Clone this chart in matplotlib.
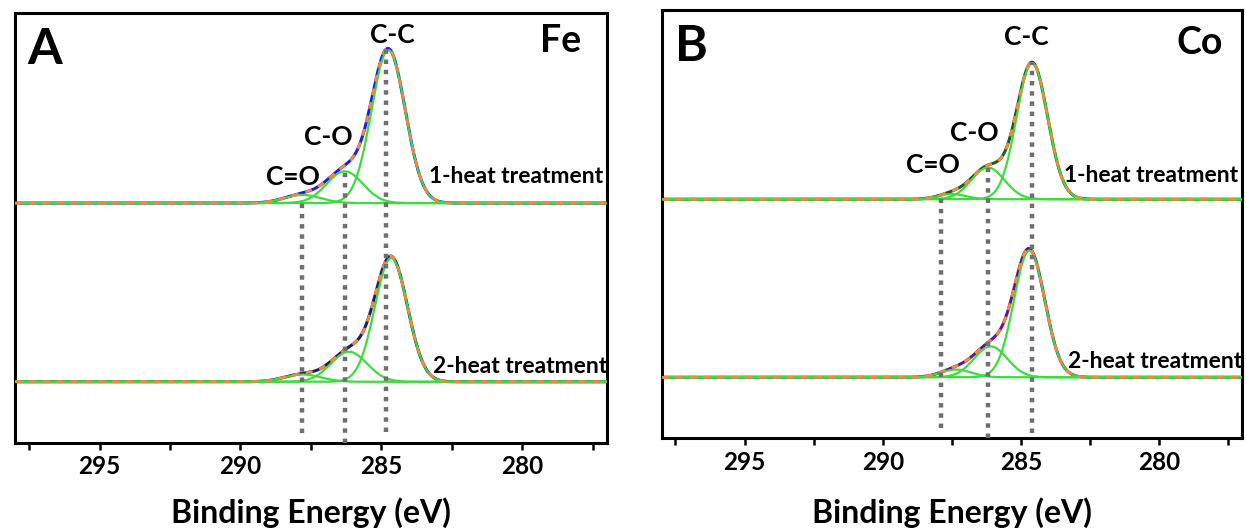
import numpy as np
import matplotlib
matplotlib.use("Agg")
import matplotlib.pyplot as plt

plt.rcParams['font.family'] = ['Lato', 'DejaVu Sans']
plt.rcParams['font.weight'] = 'bold'

# BINDING ENERGY GRID (eV)
energy = np.linspace(298, 277, 841)

# FIT COMPONENTS PER SPECTRUM: (label, centre eV, height, sigma eV)
fe_1heat = [("C=O", 287.8, 0.019, 0.65),
            ("C-O", 286.3, 0.074, 0.64),
            ("C-C", 284.75, 0.356, 0.60)]
fe_2heat = [("C=O", 287.8, 0.017, 0.65),
            ("C-O", 286.15, 0.070, 0.64),
            ("C-C", 284.65, 0.288, 0.58)]
co_1heat = [("C=O", 287.5, 0.012, 0.50),
            ("C-O", 286.2, 0.074, 0.60),
            ("C-C", 284.6, 0.318, 0.56)]
co_2heat = [("C=O", 287.35, 0.018, 0.55),
            ("C-O", 286.1, 0.072, 0.60),
            ("C-C", 284.7, 0.296, 0.56)]

# BASELINE OFFSETS (stacked spectra)
offsets = [0.558, 0.142]

# REFERENCE LINES: (centre eV, top, bottom)
fe_refs = [(287.8, 0.558, 0.023), (286.3, 0.630, 0.000), (284.85, 0.921, 0.026)]
co_refs = [(287.9, 0.572, 0.023), (286.2, 0.631, 0.000), (284.6, 0.879, 0.012)]

raw_colors_fe = ["#1c1cf0", "#1d1d6a"]
raw_colors_co = ["#1f5a1f", "#6a1490"]

ticks = [295, 290, 285, 280]
minor_ticks = [297.5, 292.5, 287.5, 282.5, 277.5]

GREEN = "#3ddc3d"
ORANGE = "#f28a3a"


def gauss(x, c, h, s):
    return h * np.exp(-(x - c) ** 2 / (2 * s ** 2))


def draw_spectrum(ax, comps, base, raw_color):
    parts = [gauss(energy, c, h, s) for _, c, h, s in comps]
    envelope = base + np.sum(parts, axis=0)
    ax.plot(energy, envelope, color=raw_color, lw=2.2, zorder=2)
    for p in parts:
        ax.plot(energy, base + p, color=GREEN, lw=1.6, zorder=3)
    ax.plot(energy, envelope, color=ORANGE, lw=2.0,
            dashes=(2.5, 2.5), zorder=4)


def setup(ax):
    ax.set_xlim(298, 277)
    ax.set_ylim(0, 1)
    ax.set_yticks([])
    ax.set_xticks(ticks)
    ax.set_xticks(minor_ticks, minor=True)
    ax.tick_params(axis='x', which='both', direction='out', length=5,
                   width=1.8, labelsize=17.5, pad=4)
    for sp in ax.spines.values():
        sp.set_linewidth(2.2)


fig = plt.figure(figsize=(12.46, 5.29), dpi=100)
axA = fig.add_axes([0.012, 0.163, 0.475, 0.812])
axB = fig.add_axes([0.531, 0.172, 0.466, 0.809])

panels = [
    (axA, [fe_1heat, fe_2heat], raw_colors_fe, fe_refs, "A", "Fe",
     (0.050, 0.916), (0.922, 0.935)),
    (axB, [co_1heat, co_2heat], raw_colors_co, co_refs, "B", "Co",
     (0.052, 0.914), (0.927, 0.923)),
]

for ax, spectra, colors, refs, letter, metal, lpos, mpos in panels:
    setup(ax)
    for comps, base, col in zip(spectra, offsets, colors):
        draw_spectrum(ax, comps, base, col)
    for x, top, bot in refs:
        ax.plot([x, x], [bot, top], color="#6f6f6f", lw=3.2,
                dashes=(1, 1.3), zorder=5)
    ax.text(*lpos, letter, transform=ax.transAxes, fontsize=36,
            fontweight='bold', va='center', ha='center')
    ax.text(*mpos, metal, transform=ax.transAxes, fontsize=27,
            fontweight='bold', va='center', ha='center')
    # x label placed by baseline
    bb = ax.get_position()
    fig.text((bb.x0 + bb.x1) / 2, 0.0125, "Binding Energy (eV)",
             fontsize=23, fontweight='bold', ha='center', va='baseline')

# PEAK LABELS
label_kw = dict(fontsize=19, fontweight='bold', ha='center', va='center')
axA.text(284.6, 0.949, "C-C", **label_kw)
axA.text(286.87, 0.712, "C-O", **label_kw)
axA.text(288.13, 0.619, "C=O", **label_kw)
axA.text(0.993, 0.619, "1-heat treatment", transform=axA.transAxes,
         fontsize=16.5, fontweight='bold', ha='right', va='center')
axA.text(1.0, 0.177, "2-heat treatment", transform=axA.transAxes,
         fontsize=16.5, fontweight='bold', ha='right', va='center')

axB.text(284.8, 0.937, "C-C", **label_kw)
axB.text(286.7, 0.713, "C-O", **label_kw)
axB.text(288.2, 0.638, "C=O", **label_kw)
axB.text(0.993, 0.614, "1-heat treatment", transform=axB.transAxes,
         fontsize=16.5, fontweight='bold', ha='right', va='center')
axB.text(1.0, 0.178, "2-heat treatment", transform=axB.transAxes,
         fontsize=16.5, fontweight='bold', ha='right', va='center')

fig.savefig("out.png", dpi=100)
